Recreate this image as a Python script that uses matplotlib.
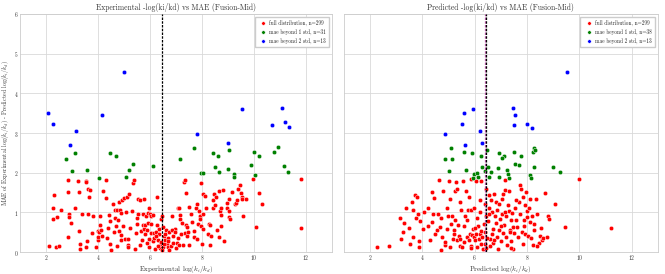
import numpy as np
import matplotlib.pyplot as plt
import seaborn as sns

sns.set_style("whitegrid")
plt.rcParams['font.family'] = ['cmr10', 'DejaVu Serif']
plt.rcParams['mathtext.fontset'] = 'cm'
plt.rcParams['axes.unicode_minus'] = False
plt.rcParams['axes.formatter.use_mathtext'] = True

# ---------------- left panel: experimental ----------------
exp_red_x = [2.13, 2.38, 2.52, 2.29, 2.27, 2.32, 2.42, 2.59, 2.85, 2.85, 2.86, 2.89, 2.90, 2.96, 3.11,
             3.22, 3.29, 3.29, 3.31, 3.31, 3.53, 3.55, 3.60, 3.62, 3.57, 3.55, 3.68, 3.67, 3.76, 3.81,
             3.92, 3.99, 3.99, 4.01, 4.04, 4.08, 4.09, 4.11, 4.14, 4.20, 4.31, 4.31, 4.34, 4.40, 4.42,
             4.48, 4.52, 4.59, 4.65, 4.66, 4.69, 4.74, 4.73, 4.80, 4.79, 4.80, 4.84, 4.87, 4.92, 4.88,
             4.90, 5.01, 5.06, 5.07, 5.10, 5.15, 5.16, 5.20, 5.17, 5.32, 5.36, 5.39, 5.41, 5.45, 5.49,
             5.52, 5.54, 5.61, 5.64, 5.63, 5.68, 5.72, 5.73, 5.78, 5.78, 5.81, 5.83, 5.86, 5.89, 5.91,
             5.95, 5.92, 5.96, 5.97, 6.00, 6.03, 6.06, 6.11, 6.14, 6.13, 6.17, 6.19, 6.24, 6.27, 6.29,
             6.32, 6.34, 6.36, 6.37, 6.41, 6.43, 6.45, 6.50, 6.52, 6.56, 6.59, 6.62, 6.65, 6.69, 6.71,
             6.75, 6.80, 6.84, 6.88, 6.90, 6.96, 6.99, 7.04, 7.07, 7.10, 7.11, 7.13, 7.15, 7.17, 7.22,
             7.27, 7.30, 7.34, 7.36, 7.38, 7.39, 7.41, 7.43, 7.45, 7.49, 7.52, 7.60, 7.62, 7.68, 7.71,
             7.77, 7.80, 7.82, 7.86, 7.87, 7.91, 7.94, 7.96, 7.97, 7.99, 8.03, 8.04, 8.06, 8.11, 8.15,
             8.22, 8.26, 8.30, 8.33, 8.37, 8.41, 8.43, 8.46, 8.51, 8.55, 8.59, 8.64, 8.66, 8.69, 8.73,
             8.75, 8.75, 8.80, 8.87, 8.96, 8.97, 9.03, 9.04, 9.06, 9.10, 9.16, 9.27, 9.30, 9.35, 9.40,
             9.46, 9.49, 9.54, 9.54, 9.58, 9.71, 9.96, 10.09, 10.18, 10.31, 11.81, 11.81,
             6.38, 6.42, 6.48, 6.55, 6.60, 6.30, 6.68, 6.75, 6.22, 6.85, 4.45, 4.60, 5.25, 5.55, 5.90,
             6.05, 6.95, 7.20, 3.40, 4.95]
exp_red_y = [0.15, 0.12, 0.16, 0.84, 1.10, 1.43, 0.89, 1.06, 1.81, 1.52, 0.37, 0.97, 0.89, 0.73, 1.11,
             1.79, 1.52, 0.53, 0.21, 0.08, 1.79, 1.77, 1.59, 0.96, 0.27, 0.13, 1.56, 1.38, 0.49, 0.91,
             0.13, 0.53, 0.30, 0.38, 0.50, 0.68, 0.90, 0.56, 0.41, 1.54, 1.81, 1.37, 0.35, 0.60, 0.94,
             0.78, 0.06, 1.22, 1.05, 0.85, 0.66, 0.16, 1.05, 1.26, 0.80, 0.53, 1.05, 0.99, 1.32, 0.43,
             0.30, 1.36, 0.34, 1.00, 1.40, 0.34, 0.19, 1.46, 0.13, 1.04, 1.73, 1.81, 0.08, 0.47, 0.70,
             0.87, 1.35, 1.31, 0.53, 0.17, 0.30, 0.97, 0.68, 1.34, 0.57, 0.46, 0.68, 0.91, 0.55, 0.74,
             1.11, 0.98, 0.33, 0.13, 0.95, 0.48, 0.92, 0.93, 0.49, 0.27, 0.35, 0.08, 0.51, 0.68, 1.38,
             0.30, 0.46, 0.59, 0.17, 0.21, 0.84, 0.92, 0.63, 0.13, 0.40, 0.30, 0.55, 0.21, 0.36, 0.13,
             0.51, 0.16, 0.92, 0.41, 0.23, 0.59, 0.10, 0.24, 0.35, 1.11, 0.19, 1.12, 0.84, 0.93, 0.73,
             0.19, 1.76, 0.48, 1.81, 0.68, 1.49, 0.40, 0.63, 0.51, 0.19, 1.14, 0.95, 0.75, 0.38, 0.52,
             1.11, 1.22, 0.34, 0.72, 1.04, 0.92, 0.84, 1.75, 0.66, 0.21, 1.46, 0.97, 0.59, 1.41, 1.10,
             0.46, 0.72, 0.19, 0.68, 0.40, 1.31, 1.11, 1.46, 1.19, 1.39, 0.55, 0.38, 1.53, 1.04, 0.93,
             1.12, 0.65, 1.56, 0.27, 1.24, 1.12, 1.04, 0.89, 1.34, 0.84, 1.52, 1.22, 1.24, 1.31, 1.60,
             1.70, 1.48, 1.39, 1.34, 0.92, 1.35, 1.83, 0.63, 1.49, 1.21, 1.84, 0.61,
             0.10, 0.25, 0.05, 0.20, 0.45, 0.15, 0.28, 0.06, 0.40, 0.55, 0.20, 0.50, 0.60, 0.95, 0.22,
             0.70, 0.50, 0.45, 0.95, 0.65]
exp_green_x = [2.78, 3.11, 2.99, 3.58, 4.05, 4.45, 4.70, 5.07, 5.20, 5.35, 6.13, 7.16, 7.71, 7.96, 8.06,
               8.41, 8.52, 8.62, 8.66, 8.99, 9.04, 9.22, 9.22, 9.89, 10.01, 10.05, 10.18, 10.78, 10.93,
               11.16, 11.31]
exp_green_y = [2.35, 2.50, 2.04, 2.08, 1.86, 2.49, 2.43, 1.88, 2.06, 2.23, 2.16, 2.34, 2.62, 1.99, 1.99,
               2.50, 2.14, 2.43, 2.03, 2.10, 2.57, 1.97, 1.88, 2.19, 2.52, 1.93, 2.41, 2.52, 2.64,
               2.16, 2.03]
exp_blue_x = [2.08, 2.29, 3.17, 4.14, 5.01, 7.82, 9.54, 10.70, 11.09, 11.21, 11.35, 2.93, 8.99]
exp_blue_y = [3.50, 3.24, 3.06, 3.45, 4.53, 2.97, 3.60, 3.19, 3.64, 3.27, 3.14, 2.70, 2.74]
exp_mean = 6.47

# ---------------- right panel: predicted ----------------
pred_red_x = [2.25, 2.71, 3.19, 3.27, 3.31, 3.14, 3.38, 3.52, 3.59, 3.65, 3.65, 3.73, 3.79, 3.75, 3.85,
              3.88, 3.87, 3.93, 4.03, 4.22, 4.31, 4.36, 4.39, 4.41, 4.45, 4.50, 4.58, 4.61, 4.64, 4.66,
              4.70, 4.70, 4.75, 4.79, 4.88, 4.93, 4.96, 5.00, 5.03, 5.05, 5.07, 5.11, 5.15, 5.17, 5.22,
              5.25, 5.27, 5.30, 5.32, 5.34, 5.38, 5.40, 5.43, 5.46, 5.49, 5.53, 5.55, 5.58, 5.65, 5.68,
              5.71, 5.72, 5.74, 5.77, 5.78, 5.81, 5.85, 5.88, 5.88, 5.91, 5.93, 5.96, 5.98, 6.01, 6.04,
              6.06, 6.09, 6.10, 6.14, 6.16, 6.19, 6.21, 6.23, 6.24, 6.26, 6.29, 6.34, 6.50, 6.54, 6.57,
              6.59, 6.62, 6.66, 6.67, 6.70, 6.72, 6.75, 6.77, 6.80, 6.82, 6.85, 6.87, 6.90, 6.92, 6.95,
              6.97, 7.00, 7.03, 7.05, 7.08, 7.10, 7.13, 7.15, 7.18, 7.20, 7.22, 7.25, 7.28, 7.30, 7.33,
              7.36, 7.38, 7.41, 7.43, 7.46, 7.48, 7.52, 7.56, 7.58, 7.62, 7.66, 7.70, 7.74, 7.75, 7.79,
              7.81, 7.84, 7.86, 7.89, 7.91, 7.94, 7.96, 7.99, 8.02, 8.04, 8.08, 8.12, 8.15, 8.18, 8.22,
              8.26, 8.29, 8.35, 8.37, 8.47, 8.50, 8.57, 8.62, 8.68, 8.76, 8.80, 8.85, 9.09, 9.47, 9.98,
              11.20,
              6.38, 6.40, 6.42, 6.40, 6.45, 6.44, 6.36, 6.47, 4.20, 4.85, 5.20, 5.60, 6.00, 6.60, 7.00,
              7.40, 7.90, 8.40, 3.50, 4.05, 5.45, 6.20, 6.75, 7.15, 7.60, 8.10, 8.55, 5.85, 6.55, 7.35]
pred_red_y = [0.14, 0.16, 0.34, 0.50, 0.73, 0.85, 1.10, 0.21, 1.27, 1.07, 0.37, 1.43, 1.38, 0.87, 0.97,
              0.28, 0.13, 0.78, 0.59, 1.10, 0.30, 0.76, 1.52, 0.97, 1.37, 0.46, 0.55, 0.95, 1.81, 0.63,
              0.04, 0.87, 0.38, 1.54, 0.19, 1.11, 0.59, 0.92, 1.78, 1.35, 0.14, 0.70, 0.92, 0.34, 0.46,
              1.54, 0.82, 1.77, 1.60, 0.30, 0.67, 0.41, 0.16, 0.34, 1.05, 0.13, 1.79, 0.65, 0.90, 1.54,
              0.80, 0.38, 1.07, 1.38, 0.30, 0.46, 0.15, 1.83, 1.07, 0.42, 0.58, 0.38, 1.12, 0.30, 0.46,
              1.80, 0.13, 0.86, 0.65, 0.34, 0.45, 1.32, 1.79, 0.21, 0.53, 0.38, 0.08, 0.78, 1.12, 1.45,
              0.34, 1.32, 1.01, 0.45, 0.58, 0.23, 1.46, 0.90, 1.27, 0.74, 0.38, 1.07, 0.08, 0.55, 1.20,
              0.84, 0.28, 1.34, 0.95, 0.48, 1.46, 0.68, 1.56, 1.81, 0.38, 0.90, 0.17, 1.18, 1.04, 1.54,
              0.55, 0.80, 0.28, 0.99, 0.62, 0.08, 0.48, 1.12, 0.82, 0.63, 0.38, 1.27, 1.69, 0.97, 1.60,
              0.51, 0.21, 1.39, 0.80, 1.18, 0.46, 1.51, 1.04, 0.89, 0.41, 1.12, 1.35, 0.36, 0.90, 0.19,
              0.70, 0.55, 1.35, 0.97, 0.24, 0.41, 0.30, 0.36, 1.49, 0.38, 0.90, 0.84, 1.21, 0.63, 1.85,
              0.60,
              0.20, 0.50, 0.90, 1.20, 0.10, 1.60, 0.70, 0.35, 0.65, 0.25, 0.55, 0.25, 0.60, 0.15, 0.65,
              0.10, 0.65, 0.15, 0.60, 1.00, 1.25, 1.00, 0.30, 1.00, 1.30, 0.75, 0.60, 0.10, 0.95, 0.50]
pred_green_x = [5.10, 4.87, 5.13, 5.02, 5.60, 5.67, 5.92, 5.98, 6.09, 5.93, 6.23, 6.30, 6.48, 6.50, 6.64,
                6.92, 6.90, 6.95, 7.11, 7.24, 7.28, 7.33, 7.50, 7.55, 7.70, 7.79, 8.12, 8.17, 8.23, 8.27,
                8.28, 8.31, 8.98, 9.26, 6.13, 6.40, 6.56, 7.05]
pred_green_y = [2.62, 2.34, 2.35, 2.04, 2.51, 2.07, 2.50, 1.98, 1.99, 1.87, 2.43, 2.15, 2.57, 2.14, 2.03,
                2.50, 2.11, 1.88, 2.43, 2.06, 1.98, 1.87, 2.52, 2.22, 2.19, 2.41, 1.93, 1.86, 2.51, 2.15,
                2.63, 2.57, 2.15, 2.03, 1.89, 2.05, 1.89, 2.38]
pred_blue_x = [9.53, 5.95, 5.59, 5.52, 4.86, 6.21, 7.48, 7.56, 7.51, 7.99, 8.21, 5.63, 6.29]
pred_blue_y = [4.53, 3.61, 3.50, 3.24, 2.97, 3.06, 3.62, 3.45, 3.19, 3.24, 3.12, 2.69, 2.74]
pred_mean_exp = 6.45
pred_mean_pred = 6.385

fig = plt.figure(figsize=(6.65, 2.74), dpi=100)
ax1 = fig.add_axes([0.030, 0.080, 0.469, 0.869])
ax2 = fig.add_axes([0.517, 0.080, 0.472, 0.869], sharey=ax1)

panels = [
    (ax1, exp_red_x, exp_red_y, exp_green_x, exp_green_y, exp_blue_x, exp_blue_y, 31,
     "Experimental -log(ki/kd) vs MAE (Fusion-Mid)", r"Experimental $\log(k_i/k_d)$"),
    (ax2, pred_red_x, pred_red_y, pred_green_x, pred_green_y, pred_blue_x, pred_blue_y, 38,
     "Predicted -log(ki/kd) vs MAE (Fusion-Mid)", r"Predicted $\log(k_i/k_d)$"),
]

for ax, rx, ry, gx, gy, bx, by, n_green, title, xlabel in panels:
    kw = dict(s=10, edgecolors='white', linewidths=0.3, zorder=3)
    ax.scatter(rx, ry, color='red', label="full distribution, n=299", **kw)
    ax.scatter(gx, gy, color='green', label=f"mae beyond 1 std, n={n_green}", **kw)
    ax.scatter(bx, by, color='blue', label="mae beyond 2 std, n=13", **kw)
    ax.set_xlim(1.0, 13.0)
    ax.set_ylim(0, 6)
    ax.set_xticks([2, 4, 6, 8, 10, 12])
    ax.set_yticks([0, 1, 2, 3, 4, 5, 6])
    ax.set_title(title, fontsize=5.5, pad=3, color='#333333')
    ax.set_xlabel(xlabel, fontsize=5, labelpad=1, color='#333333')
    ax.tick_params(labelsize=4, pad=1, length=0, colors='#333333')
    ax.grid(True, color='#d9d9d9', linewidth=0.6)
    for sp in ax.spines.values():
        sp.set_color('#cccccc')
        sp.set_linewidth(0.6)
    ax.legend(loc='upper right', fontsize=3.8, markerscale=0.8, handletextpad=0.2,
              borderpad=0.6, labelspacing=0.5, frameon=True, edgecolor='#cccccc',
              fancybox=False, framealpha=1)

dash = (0, (2, 1))
ax1.axvline(exp_mean, color='black', linestyle=dash, linewidth=0.9, zorder=4)
ax2.axvline(pred_mean_pred, color='#c060b0', linestyle=dash, linewidth=0.9, zorder=4)
ax2.axvline(pred_mean_exp, color='black', linestyle=dash, linewidth=0.9, zorder=4)

ax1.set_ylabel(r"MAE of Experimental $\log(k_i/k_d)$ - Predicted $\log(k_i/k_d)$",
               fontsize=4.3, labelpad=2, color='#333333')
plt.setp(ax2.get_yticklabels(), visible=False)

plt.savefig("out.png", dpi=100)
